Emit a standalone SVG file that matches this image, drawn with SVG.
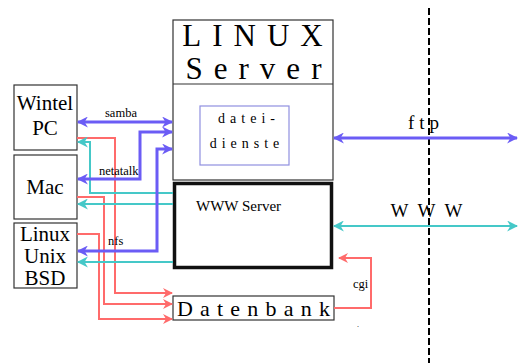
<svg xmlns="http://www.w3.org/2000/svg" width="518" height="363" viewBox="0 0 518 363">
<style>
text{font-family:"Liberation Serif","Times New Roman",serif;fill:#000}
.box{fill:#fff;stroke:#333;stroke-width:1.2}
.b{fill:none;stroke:#6b5cf5;stroke-width:3}
.c{fill:none;stroke:#45c8c8;stroke-width:2}
.r{fill:none;stroke:#ff6b6b;stroke-width:2}
.lbl{font-size:12.5px}
</style>
<defs>
<marker id="mb" viewBox="0 0 10 10" refX="9" refY="5" markerWidth="12" markerHeight="11" markerUnits="userSpaceOnUse" orient="auto-start-reverse"><path d="M0,0 L10,5 L0,10 L3,5 z" fill="#6b5cf5"/></marker>
<marker id="mc" viewBox="0 0 10 10" refX="9" refY="5" markerWidth="12" markerHeight="11" markerUnits="userSpaceOnUse" orient="auto-start-reverse"><path d="M0,0 L10,5 L0,10 L3,5 z" fill="#45c8c8"/></marker>
<marker id="mr" viewBox="0 0 10 10" refX="9" refY="5" markerWidth="12" markerHeight="10" markerUnits="userSpaceOnUse" orient="auto-start-reverse"><path d="M0,0 L10,5 L0,10 L3,5 z" fill="#ff6b6b"/></marker>
</defs>
<line x1="429" y1="8" x2="429" y2="363" stroke="#000" stroke-width="2" stroke-dasharray="7,3"/>
<g id="server">
<rect class="box" x="173" y="20" width="160" height="160"/>
<line x1="173" y1="84" x2="333" y2="84" stroke="#333" stroke-width="1.2"/>
<text x="258" y="46" font-size="31" text-anchor="middle" letter-spacing="11">LINUX</text>
<text x="259" y="79" font-size="31" text-anchor="middle" letter-spacing="11">Server</text>
</g>
<g id="dateidienste">
<rect x="200" y="106" width="89" height="59" fill="#fff" stroke="#8f8fe0" stroke-width="1.2"/>
<text x="249" y="123" font-size="14" text-anchor="middle" letter-spacing="5">datei-</text>
<text x="247" y="148" font-size="14" text-anchor="middle" letter-spacing="5">dienste</text>
</g>
<g id="www">
<rect x="174.5" y="183.5" width="157" height="84" fill="#fff" stroke="#111" stroke-width="3.5"/>
<text x="196" y="211" font-size="15">WWW Server</text>
</g>
<g id="datenbank">
<rect class="box" x="173" y="296" width="161" height="24"/>
<text x="177" y="316" font-size="22" letter-spacing="7.2">Datenbank</text>
</g>
<g id="wintel">
<rect class="box" x="14" y="85" width="63" height="65"/>
<text x="45" y="110" font-size="21" text-anchor="middle">Wintel</text>
<text x="45" y="135" font-size="21" text-anchor="middle">PC</text>
</g>
<g id="mac">
<rect class="box" x="14" y="155" width="63" height="64"/>
<text x="45" y="194" font-size="21" text-anchor="middle">Mac</text>
</g>
<g id="linux">
<rect class="box" x="14" y="223" width="63" height="65"/>
<text x="45" y="241" font-size="21" text-anchor="middle">Linux</text>
<text x="45" y="263" font-size="21" text-anchor="middle">Unix</text>
<text x="45" y="285" font-size="21" text-anchor="middle">BSD</text>
</g>
<g id="connectors">
<path class="r" d="M77,138 H115 V293 H172" marker-end="url(#mr)"/>
<path class="r" d="M77,197 H104 V304 H172" marker-end="url(#mr)"/>
<path class="r" d="M77,234 H99 V319 H172" marker-end="url(#mr)"/>
<path class="r" d="M334,308 H371 V258 H339" marker-end="url(#mr)"/>
<path class="c" d="M173,193 H90 V142 H78" marker-end="url(#mc)"/>
<path class="c" d="M173,204 H78" marker-end="url(#mc)"/>
<path class="c" d="M173,262 H78" marker-end="url(#mc)"/>
<path class="b" d="M78,122 H172" marker-start="url(#mb)" marker-end="url(#mb)"/>
<path class="b" d="M78,179 H140 V132 H172" marker-start="url(#mb)" marker-end="url(#mb)"/>
<path class="b" d="M78,251 H157 V149 H172" marker-end="url(#mb)" marker-start="url(#mb)"/>
<path class="b" d="M334,138 H517" marker-start="url(#mb)" marker-end="url(#mb)"/>
<path class="c" d="M334,226 H517" stroke-width="3" marker-start="url(#mc)" marker-end="url(#mc)"/>
<text class="lbl" x="105" y="117">samba</text>
<text class="lbl" x="99" y="175">netatalk</text>
<text class="lbl" x="108" y="245">nfs</text>
<text class="lbl" x="353" y="288">cgi</text>
<text x="426" y="129" font-size="19" text-anchor="middle" letter-spacing="5">ftp</text>
<text x="431" y="217" font-size="19" text-anchor="middle" letter-spacing="9">WWW</text>
<text x="357" y="327" font-size="8">.</text>
</g>
</svg>
